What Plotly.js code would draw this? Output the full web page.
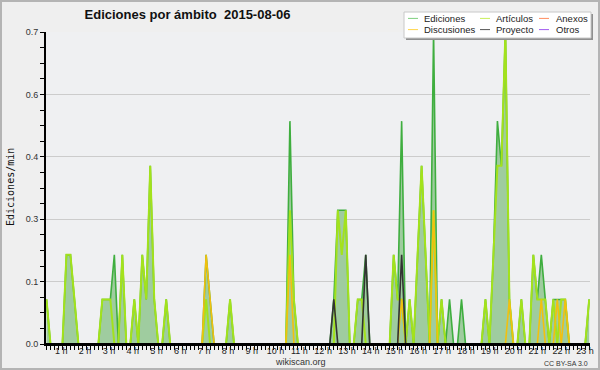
<!DOCTYPE html>
<html><head><meta charset="utf-8">
<script src="https://cdn.plot.ly/plotly-3.0.1.min.js"></script>
<style>
html,body{margin:0;padding:0;background:#efefef;}
#wrap{position:relative;width:600px;height:370px;}
#chart{width:600px;height:370px;}
#frame{position:absolute;left:0;top:0;width:596px;height:366px;border:2px solid #b4b4b4;pointer-events:none;}
</style>
</head><body>
<div id="wrap"><div id="chart"></div><div id="frame"></div></div>
<script>
// values in edits per minute, one value per time slot
const ediciones = [
 0.1,0,0,0,0,0.2,0.2,0.1,0,0,
 0,0,0,0,0.1,0.1,0.1,0.2,0,0.2,
 0,0,0.1,0,0.2,0.1,0.4,0.1,0,0,
 0.1,0,0,0,0,0,0,0,0,0,
 0.2,0.1,0,0,0,0,0.1,0,0,0,
 0,0,0,0,0,0,0,0,0,0,
 0,0.5,0.1,0,0,0,0,0,0,0,
 0,0,0.1,0.3,0.3,0.3,0,0,0.1,0.1,
 0.2,0,0,0,0,0,0,0.2,0.1,0.5,
 0,0.1,0,0.2,0.4,0.2,0,0.7,0,0.1,
 0,0.1,0,0,0.1,0,0,0,0,0,
 0.1,0,0.2,0.5,0.4,0.7,0.1,0,0,0.1,
 0,0,0.2,0.1,0.2,0.1,0,0.1,0.1,0.1,
 0.1,0,0,0,0,0,0.1
];
const articulos = [
 0.1,0,0,0,0,0.2,0.2,0.1,0,0,
 0,0,0,0,0.1,0.1,0.1,0,0,0.2,
 0,0,0.1,0,0.2,0.1,0.4,0.1,0,0,
 0.1,0,0,0,0,0,0,0,0,0,
 0.1,0,0,0,0,0,0.1,0,0,0,
 0,0,0,0,0,0,0,0,0,0,
 0,0.3,0.1,0,0,0,0,0,0,0,
 0,0,0,0.3,0.2,0.3,0,0,0.1,0.1,
 0,0,0,0,0,0,0,0.2,0.1,0.1,
 0,0.1,0,0.2,0.4,0.2,0,0.3,0,0.1,
 0,0,0,0,0,0,0,0,0,0,
 0.1,0,0.2,0.4,0.4,0.7,0.1,0,0,0.1,
 0,0,0.2,0.1,0.1,0.1,0,0.1,0,0.1,
 0.1,0,0,0,0,0,0.1
];
const discusiones = [
 0,0,0,0,0,0,0,0,0,0,
 0,0,0,0,0,0,0,0,0,0,
 0,0,0,0,0,0,0,0,0,0,
 0,0,0,0,0,0,0,0,0,0,
 0.2,0.1,0,0,0,0,0,0,0,0,
 0,0,0,0,0,0,0,0,0,0,
 0,0.2,0,0,0,0,0,0,0,0,
 0,0,0,0,0,0,0,0,0,0,
 0,0,0,0,0,0,0,0,0,0.1,
 0,0,0,0,0,0,0,0.3,0,0,
 0,0,0,0,0,0,0,0,0,0,
 0,0,0,0,0,0,0.1,0,0,0,
 0,0,0,0,0.1,0,0,0,0.1,0,
 0.1,0,0,0,0,0,0
];
const proyecto = [
 0,0,0,0,0,0,0,0,0,0,
 0,0,0,0,0,0,0,0,0,0,
 0,0,0,0,0,0,0,0,0,0,
 0,0,0,0,0,0,0,0,0,0,
 0,0,0,0,0,0,0,0,0,0,
 0,0,0,0,0,0,0,0,0,0,
 0,0,0,0,0,0,0,0,0,0,
 0,0,0.1,0,0,0,0,0,0,0,
 0.2,0,0,0,0,0,0,0,0,0.2,
 0,0,0,0,0,0,0,0,0,0,
 0,0,0,0,0,0,0,0,0,0,
 0,0,0,0,0,0,0,0,0,0,
 0,0,0,0,0,0,0,0,0,0,
 0,0,0,0,0,0,0
];
const anexos = new Array(ediciones.length).fill(0);
const otros = new Array(ediciones.length).fill(0);

const xTickHours = [1,2,3,4,5,6,7,8,9,10,11,12,13,14,15,16,17,18,19,20,21,22,23];
const xTickText = xTickHours.map(h => h + ' h');
const yTickVals = [0, 0.14, 0.28, 0.42, 0.56, 0.7];
const yTickText = ['0.0','0.1','0.3','0.4','0.6','0.7'];

const seriesNames = ['Ediciones','Artículos','Anexos','Discusiones','Proyecto','Otros'];
const seriesColors = ['#3fae3f','#a3e21c','#ff7f50','#f2c00f','#333333','#9a4df0'];
const legendColors = ['#7fcf7f','#c9ef5a','#ff8c5e','#ffd54a','#555555','#a25cf0'];

// layout helpers (pixel -> paper)
const L = 46, R = 10, T = 32, B = 26, W = 600, H = 370;
const pw = W - L - R, ph = H - T - B;
const px = p => (p - L) / pw;
const py = p => (H - B - p) / ph;

const idx = ediciones.map((_, i) => i);
const xTickVals = xTickHours.map(h => (23.8 * h - 9) / 3.99);

const allY = [ediciones, articulos, anexos, discusiones, proyecto, otros];
const widths = [1.6, 2, 1, 1.6, 1.6, 1];
const traces = allY.map((y, k) => {
  const t = {type:'scatter', mode:'lines', x: idx, y: y, name: seriesNames[k],
    hoverinfo:'skip', line:{color: seriesColors[k], width: widths[k]}};
  if (k === 0) { t.fill = 'tozeroy'; t.fillcolor = '#9fcc9f'; }
  return t;
});

const shapes = [
  // x axis line over zero values
  {type:'line', xref:'paper', yref:'y', x0:0, x1:1, y0:0, y1:0, line:{color:'#000', width:2}, layer:'above'},
  // legend shadow and box
  {type:'rect', xref:'paper', yref:'paper', x0:px(406), x1:px(593), y0:py(40), y1:py(14), fillcolor:'#8f8f8f', line:{width:0}, layer:'above'},
  {type:'rect', xref:'paper', yref:'paper', x0:px(404), x1:px(591), y0:py(38), y1:py(12), fillcolor:'#ffffff', line:{color:'#c8c8c8', width:1}, layer:'above'}
];
const annotations = [];
const legCols = [[0,3],[1,4],[2,5]];
const colLine = [408, 480, 539];
const colText = [423, 495, 555];
const rowY = [18.4, 29.6];
legCols.forEach((col, c) => {
  col.forEach((k, r) => {
    shapes.push({type:'line', xref:'paper', yref:'paper', x0:px(colLine[c]), x1:px(colLine[c]+10), y0:py(rowY[r]), y1:py(rowY[r]), line:{color: legendColors[k], width:1}, layer:'above'});
    annotations.push({xref:'paper', yref:'paper', x:px(colText[c]), y:py(rowY[r]), xanchor:'left', yanchor:'middle', showarrow:false, borderpad:0, text: seriesNames[k], font:{family:'Liberation Sans', size:9.5, color:'#222'}});
  });
});
annotations.push({xref:'paper', yref:'paper', x:px(10), y:py(187), textangle:-90, xanchor:'center', yanchor:'middle', showarrow:false, text:'Ediciones/min', font:{family:'DejaVu Sans Mono', size:10, color:'#111'}});
annotations.push({xref:'paper', yref:'paper', x:px(300), y:py(362), xanchor:'center', yanchor:'middle', showarrow:false, borderpad:0, text:'wikiscan.org', font:{family:'Liberation Sans', size:9, color:'#333'}});
annotations.push({xref:'paper', yref:'paper', x:px(589), y:py(363), xanchor:'right', yanchor:'middle', showarrow:false, borderpad:0, text:'CC BY-SA 3.0', font:{family:'Liberation Sans', size:7, color:'#333'}});

const layout = {
  width: W, height: H,
  margin: {l:L, r:R, t:T, b:B, pad:0},
  paper_bgcolor:'#efefef', plot_bgcolor:'#eff0f2',
  showlegend:false,
  title:{text:'<b>Ediciones por ámbito&nbsp; 2015-08-06</b>', font:{family:'Liberation Sans', size:13, color:'#111'},
    xref:'paper', x:px(187.5), xanchor:'center', yref:'container', y:1-14/H, yanchor:'middle'},
  xaxis:{range:[-0.125, 136.2], showgrid:false, zeroline:false, showline:true, linecolor:'#000', linewidth:2,
    tickmode:'array', tickvals:xTickVals, ticktext:xTickText, ticks:'', ticklabelstandoff:-3,
    tickfont:{family:'Liberation Sans', size:9, color:'#222'},
    minor:{ticks:'outside', ticklen:4, tickcolor:'#000', tickwidth:1, dtick:1, tick0:0, showgrid:false}},
  yaxis:{range:[0, 0.7], showgrid:true, gridcolor:'#cccccc', gridwidth:1, zeroline:false, showline:true, linecolor:'#000', linewidth:2,
    tickmode:'array', tickvals:yTickVals, ticktext:yTickText, ticks:'outside', ticklen:4, tickcolor:'#000',
    tickfont:{family:'Liberation Sans', size:9, color:'#333'},
    minor:{ticks:'outside', ticklen:4, tickcolor:'#000', tickwidth:1, dtick:0.035, tick0:0, showgrid:false}},
  shapes: shapes, annotations: annotations
};
Plotly.newPlot('chart', traces, layout, {staticPlot:true, displayModeBar:false});
</script>
</body></html>
